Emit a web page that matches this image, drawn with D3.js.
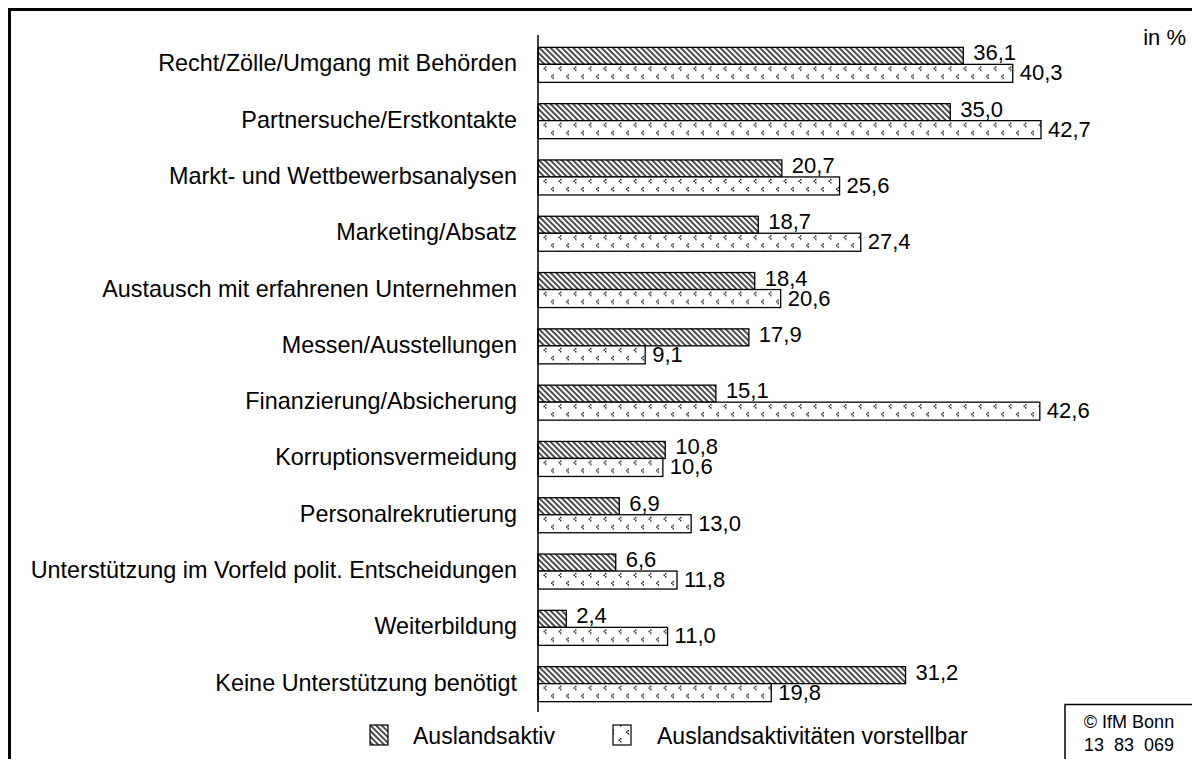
<!DOCTYPE html>
<html>
<head>
<meta charset="utf-8">
<script src="https://cdn.jsdelivr.net/npm/d3@7"></script>
<style>
  body { margin: 0; background: #fff; }
  svg { display: block; font-family: "Liberation Sans", Arial, sans-serif; }
</style>
</head>
<body>
<div id="chart"></div>
<script>
const categories = [
  'Recht/Zölle/Umgang mit Behörden',
  'Partnersuche/Erstkontakte',
  'Markt- und Wettbewerbsanalysen',
  'Marketing/Absatz',
  'Austausch mit erfahrenen Unternehmen',
  'Messen/Ausstellungen',
  'Finanzierung/Absicherung',
  'Korruptionsvermeidung',
  'Personalrekrutierung',
  'Unterstützung im Vorfeld polit. Entscheidungen',
  'Weiterbildung',
  'Keine Unterstützung benötigt'
];
const auslandsaktiv = [36.1, 35.0, 20.7, 18.7, 18.4, 17.9, 15.1, 10.8, 6.9, 6.6, 2.4, 31.2];
const vorstellbar = [40.3, 42.7, 25.6, 27.4, 20.6, 9.1, 42.6, 10.6, 13.0, 11.8, 11.0, 19.8];
const seriesNames = ['Auslandsaktiv', 'Auslandsaktivitäten vorstellbar'];

const width = 1192, height = 759;
const svg = d3.select('#chart').append('svg')
  .attr('width', width)
  .attr('height', height);

const fmt = d3.formatLocale({ decimal: ',', thousands: '.', grouping: [3], currency: ['', '€'] }).format('.1f');

/*
Patterns
*/
const defs = svg.append('defs');
const hatch = defs.append('pattern')
  .attr('id', 'hatch')
  .attr('patternUnits', 'userSpaceOnUse')
  .attr('width', 4)
  .attr('height', 4)
  .attr('patternTransform', 'rotate(-45)');
hatch.append('rect').attr('width', 4).attr('height', 4).attr('fill', '#fff');
hatch.append('line')
  .attr('x1', 1).attr('y1', 0).attr('x2', 1).attr('y2', 4)
  .style('stroke', '#111')
  .style('stroke-width', 1.5);

const dots = defs.append('pattern')
  .attr('id', 'dots')
  .attr('patternUnits', 'userSpaceOnUse')
  .attr('width', 15)
  .attr('height', 16);
dots.append('rect').attr('width', 15).attr('height', 16).attr('fill', '#fff');
[[5, 2], [3.5, 3.5], [5, 5], [12.5, 10], [11, 11.5], [12.5, 13]].forEach(([px, py]) => {
  dots.append('rect').attr('x', px).attr('y', py).attr('width', 1.5).attr('height', 1.5).attr('fill', '#222');
});

/*
Frame
*/
svg.append('line').attr('x1', 8).attr('x2', width).attr('y1', 9.5).attr('y2', 9.5)
  .style('stroke', '#000').style('stroke-width', 3);
svg.append('line').attr('x1', 9.5).attr('x2', 9.5).attr('y1', 8).attr('y2', height)
  .style('stroke', '#000').style('stroke-width', 3);

/*
Scales
*/
const x = d3.scaleLinear([0, 42.7], [538, 1041]);
const y = d3.scaleBand(categories, [36.2, 711.8]);
const barH = 17;

const rows = categories.map((c, i) => ({ cat: c, a: auslandsaktiv[i], v: vorstellbar[i] }));

const g = svg.append('g');
const row = g.selectAll('g.row').data(rows).join('g').attr('class', 'row')
  .attr('transform', d => `translate(0,${y(d.cat) + y.bandwidth() / 2})`);

row.append('rect')
  .attr('x', x(0)).attr('y', -barH)
  .attr('width', d => x(d.a) - x(0)).attr('height', barH)
  .attr('fill', 'url(#hatch)')
  .style('stroke', '#000').style('stroke-width', 1.3);

row.append('rect')
  .attr('x', x(0)).attr('y', 0)
  .attr('width', d => x(d.v) - x(0)).attr('height', barH + 1)
  .attr('fill', 'url(#dots)')
  .style('stroke', '#000').style('stroke-width', 1.3);

row.append('text')
  .attr('x', d => x(d.a) + 10).attr('y', -4)
  .attr('font-size', 22)
  .text(d => fmt(d.a));

row.append('text')
  .attr('x', d => x(d.v) + 7).attr('y', 16)
  .attr('font-size', 22)
  .text(d => fmt(d.v));

row.append('text')
  .attr('x', 517).attr('y', 7)
  .attr('text-anchor', 'end')
  .attr('font-size', 23.4)
  .text(d => d.cat);

/*
Axis
*/
svg.append('line')
  .attr('x1', x(0)).attr('x2', x(0))
  .attr('y1', 35).attr('y2', 712)
  .style('stroke', '#000').style('stroke-width', 1.5);

svg.append('text')
  .attr('x', 1186).attr('y', 45)
  .attr('text-anchor', 'end')
  .attr('font-size', 22)
  .text('in %');

/*
Legend
*/
const legend = svg.append('g');
const legendItems = [
  { name: seriesNames[0], fill: 'url(#hatch)', x: 370, tx: 413 },
  { name: seriesNames[1], fill: 'url(#dots)', x: 613, tx: 657 }
];
legendItems.forEach(d => {
  legend.append('rect')
    .attr('x', d.x).attr('y', 725)
    .attr('width', 18).attr('height', 20)
    .attr('fill', d.fill)
    .style('stroke', '#000').style('stroke-width', 1.2);
  legend.append('text')
    .attr('x', d.tx).attr('y', 744)
    .attr('font-size', 23)
    .text(d.name);
});

/*
Source box
*/
svg.append('path')
  .attr('d', `M1065,${height}V704.5H${width}`)
  .style('fill', 'none').style('stroke', '#000').style('stroke-width', 1.5);
svg.append('text')
  .attr('x', 1129).attr('y', 728)
  .attr('text-anchor', 'middle')
  .attr('font-size', 18)
  .text('© IfM Bonn');
svg.append('text')
  .attr('x', 1129).attr('y', 751)
  .attr('text-anchor', 'middle')
  .attr('font-size', 18)
  .text('13  83  069')
  .style('white-space', 'pre');
</script>
</body>
</html>
